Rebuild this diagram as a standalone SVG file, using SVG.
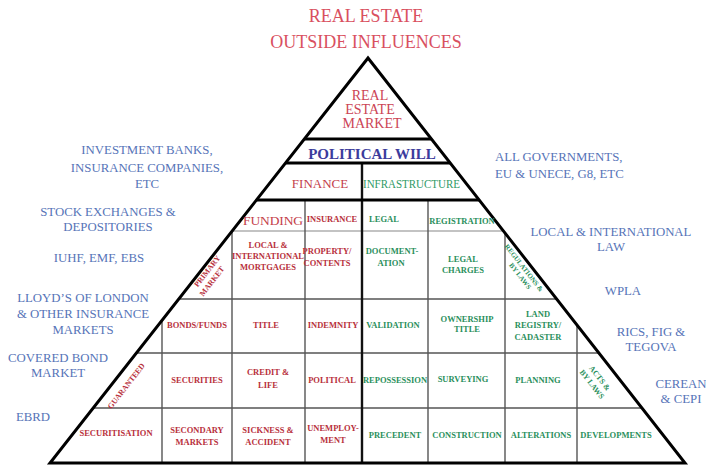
<svg xmlns="http://www.w3.org/2000/svg" width="706" height="466" viewBox="0 0 706 466" font-family="'Liberation Serif', 'DejaVu Serif', serif">
<style>
.t{fill:#d9505f;font-size:18px;text-anchor:middle}
.side{fill:#5674b8;font-size:12.8px;text-anchor:middle}
.c{font-size:8.5px;font-weight:bold;text-anchor:middle}
.rot{font-size:7.8px;font-weight:bold;text-anchor:middle}
.r{fill:#b8303c}
.g{fill:#2a8f5c}
.thick{stroke:#000;stroke-width:3;fill:none}
.grid{stroke:#555;stroke-width:1.4;fill:none}
.light{stroke:#888;stroke-width:1.2;fill:none}
</style>
<rect width="706" height="466" fill="#fff"/>

<g id="title">
<text class="t" x="366" y="22">REAL ESTATE</text>
<text class="t" x="366" y="48">OUTSIDE INFLUENCES</text>
</g>

<g id="connectors">
<line class="light" x1="232.2" y1="231" x2="503.4" y2="231"/>
<line class="grid" x1="178.8" y1="299" x2="556.6" y2="299"/>
<line class="grid" x1="136.4" y1="353" x2="598.9" y2="353"/>
<line class="grid" x1="93.2" y1="408" x2="641.9" y2="408"/>
<line class="grid" x1="305" y1="200" x2="305" y2="463"/>
<line class="grid" x1="428" y1="200" x2="428" y2="463"/>
<line class="grid" x1="232" y1="231" x2="232" y2="463"/>
<line class="grid" x1="505" y1="233" x2="505" y2="463"/>
<line class="grid" x1="162" y1="320.4" x2="162" y2="463"/>
<line class="grid" x1="577" y1="325" x2="577" y2="463"/>
<line stroke="#111" stroke-width="2.4" x1="362" y1="163" x2="362" y2="463"/>
<line class="thick" x1="304.4" y1="139" x2="431.4" y2="139"/>
<line class="thick" x1="285.6" y1="163" x2="450.2" y2="163"/>
<line class="thick" x1="256.5" y1="200" x2="479.1" y2="200"/>
<polygon class="thick" points="368,58 685,463 50,463"/>
</g>

<g id="tier-market">
<text x="370" y="100" font-size="14" fill="#cc4455" text-anchor="middle">REAL</text>
<text x="370" y="114" font-size="14" fill="#cc4455" text-anchor="middle">ESTATE</text>
<text x="372" y="128" font-size="14" fill="#cc4455" text-anchor="middle">MARKET</text>
</g>

<g id="tier-political-will">
<text x="372" y="159" font-size="15" font-weight="bold" fill="#3c3c9c" text-anchor="middle">POLITICAL WILL</text>
</g>

<g id="tier-finance">
<text x="320" y="188" font-size="13" fill="#c4404a" text-anchor="middle">FINANCE</text>
</g>
<g id="tier-infrastructure">
<text x="411.5" y="188" font-size="11.5" fill="#2f9a66" text-anchor="middle" textLength="97" lengthAdjust="spacingAndGlyphs">INFRASTRUCTURE</text>
</g>

<g id="cell-funding"><text x="273" y="225" font-size="13.5" fill="#c4404a" text-anchor="middle" textLength="60">FUNDING</text></g>
<g id="cell-insurance"><text class="c r" x="332" y="222">INSURANCE</text></g>
<g id="cell-legal"><text class="c g" x="384" y="222">LEGAL</text></g>
<g id="cell-registration"><text class="c g" x="462" y="224">REGISTRATION</text></g>

<g id="cell-primary-market" transform="translate(207,271) rotate(-52)">
<text class="rot r" x="0" y="2.8">PRIMARY</text>
<text class="rot r" x="-5" y="12.8">MARKET</text>
</g>
<g id="cell-mortgages">
<text class="c r" x="268" y="248">LOCAL &amp;</text>
<text class="c r" x="268" y="259">INTERNATIONAL</text>
<text class="c r" x="268" y="270">MORTGAGES</text>
</g>
<g id="cell-property">
<text class="c r" x="327" y="254">PROPERTY/</text>
<text class="c r" x="327" y="266">CONTENTS</text>
</g>
<g id="cell-documentation">
<text class="c g" x="392" y="254">DOCUMENT-</text>
<text class="c g" x="391" y="266">ATION</text>
</g>
<g id="cell-legal-charges">
<text class="c g" x="463" y="262">LEGAL</text>
<text class="c g" x="463" y="273">CHARGES</text>
</g>
<g id="cell-regulations" transform="translate(524,268) rotate(52)">
<text class="g" x="0" y="2.3" font-size="7" font-weight="bold" text-anchor="middle" textLength="58" lengthAdjust="spacingAndGlyphs">REGULATIONS &amp;</text>
<text class="g" x="4" y="10.3" font-size="7" font-weight="bold" text-anchor="middle">BY LAWS</text>
</g>

<g id="cell-bonds"><text class="c r" x="197" y="328">BONDS/FUNDS</text></g>
<g id="cell-title"><text class="c r" x="266" y="328">TITLE</text></g>
<g id="cell-indemnity"><text class="c r" x="333" y="328">INDEMNITY</text></g>
<g id="cell-validation"><text class="c g" x="393" y="328">VALIDATION</text></g>
<g id="cell-ownership">
<text class="c g" x="467" y="322">OWNERSHIP</text>
<text class="c g" x="467" y="332">TITLE</text>
</g>
<g id="cell-land-registry">
<text class="c g" x="538" y="317">LAND</text>
<text class="c g" x="538" y="328">REGISTRY/</text>
<text class="c g" x="538" y="340">CADASTER</text>
</g>

<g id="cell-guaranteed" transform="translate(126,386) rotate(-52)">
<text class="rot r" x="0" y="2.8">GUARANTEED</text>
</g>
<g id="cell-securities"><text class="c r" x="197" y="383">SECURITIES</text></g>
<g id="cell-credit-life">
<text class="c r" x="268" y="375">CREDIT &amp;</text>
<text class="c r" x="268" y="388">LIFE</text>
</g>
<g id="cell-political"><text class="c r" x="332" y="383">POLITICAL</text></g>
<g id="cell-repossession"><text class="c g" x="395" y="383">REPOSSESSION</text></g>
<g id="cell-surveying"><text class="c g" x="463" y="382">SURVEYING</text></g>
<g id="cell-planning"><text class="c g" x="538" y="383">PLANNING</text></g>
<g id="cell-acts" transform="translate(600,378) rotate(52)">
<text class="rot g" x="0" y="2.8">ACTS &amp;</text>
<text class="rot g" x="0" y="12.8">BY LAWS</text>
</g>

<g id="cell-securitisation"><text class="c r" x="116" y="436">SECURITISATION</text></g>
<g id="cell-secondary">
<text class="c r" x="197" y="433">SECONDARY</text>
<text class="c r" x="197" y="445">MARKETS</text>
</g>
<g id="cell-sickness">
<text class="c r" x="268" y="433">SICKNESS &amp;</text>
<text class="c r" x="268" y="445">ACCIDENT</text>
</g>
<g id="cell-unemployment">
<text class="c r" x="333" y="431">UNEMPLOY-</text>
<text class="c r" x="333" y="443">MENT</text>
</g>
<g id="cell-precedent"><text class="c g" x="395" y="438">PRECEDENT</text></g>
<g id="cell-construction"><text class="c g" x="467" y="438">CONSTRUCTION</text></g>
<g id="cell-alterations"><text class="c g" x="541" y="438">ALTERATIONS</text></g>
<g id="cell-developments"><text class="c g" x="616" y="438">DEVELOPMENTS</text></g>

<g id="label-investment-banks">
<text class="side" x="147" y="154">INVESTMENT BANKS,</text>
<text class="side" x="147" y="172">INSURANCE COMPANIES,</text>
<text class="side" x="147" y="188">ETC</text>
</g>
<g id="label-stock-exchanges">
<text class="side" x="108" y="216">STOCK EXCHANGES &amp;</text>
<text class="side" x="108" y="231">DEPOSITORIES</text>
</g>
<g id="label-iuhf"><text class="side" x="99" y="262">IUHF, EMF, EBS</text></g>
<g id="label-lloyds">
<text class="side" x="83" y="302">LLOYD’S OF LONDON</text>
<text class="side" x="83" y="318">&amp; OTHER INSURANCE</text>
<text class="side" x="83" y="334">MARKETS</text>
</g>
<g id="label-covered-bond">
<text class="side" x="58" y="362">COVERED BOND</text>
<text class="side" x="58" y="377">MARKET</text>
</g>
<g id="label-ebrd"><text class="side" x="33" y="421">EBRD</text></g>

<g id="label-governments">
<text class="side" x="495" y="161" style="text-anchor:start">ALL GOVERNMENTS,</text>
<text class="side" x="495" y="178" style="text-anchor:start">EU &amp; UNECE, G8, ETC</text>
</g>
<g id="label-law">
<text class="side" x="611" y="236">LOCAL &amp; INTERNATIONAL</text>
<text class="side" x="611" y="251">LAW</text>
</g>
<g id="label-wpla"><text class="side" x="623" y="295">WPLA</text></g>
<g id="label-rics">
<text class="side" x="651" y="336">RICS, FIG &amp;</text>
<text class="side" x="651" y="351">TEGOVA</text>
</g>
<g id="label-cerean">
<text class="side" x="681" y="388">CEREAN</text>
<text class="side" x="681" y="403">&amp; CEPI</text>
</g>
</svg>
